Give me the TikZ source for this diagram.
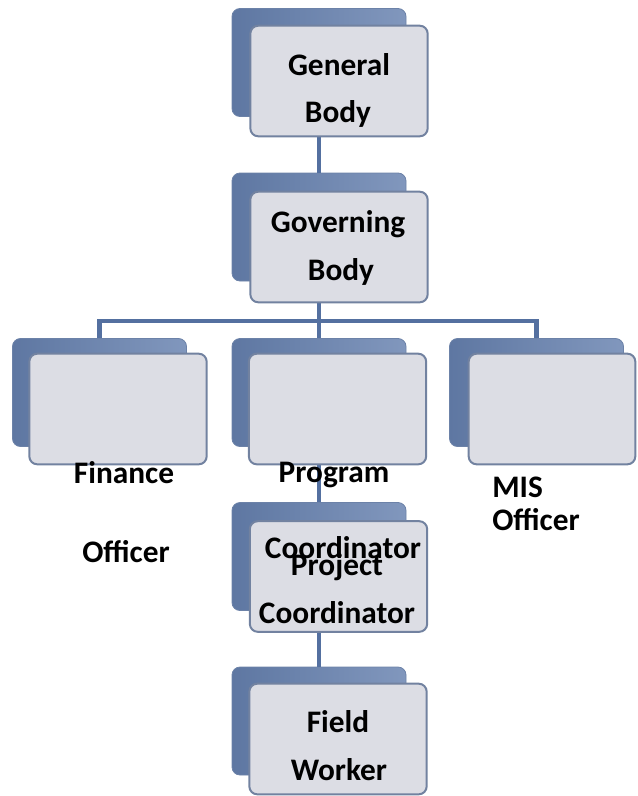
\documentclass[tikz,border=0pt]{standalone}
\usepackage{fontspec}
\setmainfont{Carlito}
\definecolor{backL}{HTML}{5E77A2}
\definecolor{backR}{HTML}{8197BD}
\definecolor{backE}{HTML}{6C82A8}
\definecolor{frontE}{HTML}{7282A0}
\definecolor{frontF}{HTML}{DCDDE4}
\definecolor{lineC}{HTML}{5470A0}
\begin{document}
\begin{tikzpicture}[x=0.75pt,y=-0.75pt,
  backbox/.style={rounded corners=6pt, minimum width=130.5pt, minimum height=81pt, inner sep=0pt,
    left color=backL, right color=backR, draw=backE, line width=0.6pt},
  frontbox/.style={rounded corners=6pt, minimum width=133pt, minimum height=83pt, inner sep=0pt,
    draw=frontE, line width=1.5pt, fill=frontF},
  conn/.style={draw=lineC, line width=3.3pt},
  lbl/.style={font=\fontsize{23.5}{28}\selectfont\bfseries, inner sep=0pt, anchor=base},
  lblw/.style={lbl, anchor=base west}
]
\useasboundingbox (0,0) rectangle (638,796);
% back boxes
\node[backbox] (gbb) at (319,62.5) {};
\node[backbox] (gvb) at (319,227) {};
\node[backbox] (fob) at (99.5,392.5) {};
\node[backbox] (pcb) at (319,392.5) {};
\node[backbox] (misb) at (536.5,392.5) {};
\node[backbox] (pjb) at (319,556.5) {};
\node[backbox] (fwb) at (319,721) {};
% connectors
\coordinate (bar) at (319,321);
\draw[conn] (gbb.south) -- (gvb.north);
\draw[conn] (gvb.south) -- (bar);
\draw[conn] (fob.north) |- (bar) -| (misb.north);
\draw[conn] (bar) -- (pcb.north);
\draw[conn] (pcb.south) -- (pjb.north);
\draw[conn] (pjb.south) -- (fwb.north);
% front boxes
\node[frontbox] (gbf) at (339,81) {};
\node[frontbox] (gvf) at (339,247) {};
\node[frontbox] (fof) at (118,409) {};
\node[frontbox] (pcf) at (337.5,409) {};
\node[frontbox, minimum width=125pt] (misf) at (552,409) {};
\node[frontbox] (pjf) at (338.5,576.5) {};
\node[frontbox] (fwf) at (338,739) {};
% labels
\node[lbl] (t1) at (339,75) {General};
\node[lbl] (t2) at (338,122) {Body};
\node[lbl] (t3) at (338,232) {Governing};
\node[lbl] (t4) at (341,280) {Body};
\node[lbl] (t5) at (124,483) {Finance};
\node[lbl] (t6) at (126,562) {Officer};
\node[lbl] (t7) at (334,482) {Program};
\node[lbl] (t8) at (343,558) {Coordinator};
\node[lblw] (t9) at (492,497) {MIS};
\node[lblw] (t10) at (492,530) {Officer};
\node[lbl] (t11) at (337,575) {Project};
\node[lbl] (t12) at (337,623) {Coordinator};
\node[lbl] (t13) at (338,732) {Field};
\node[lbl] (t14) at (339,780) {Worker};
\end{tikzpicture}
\end{document}
